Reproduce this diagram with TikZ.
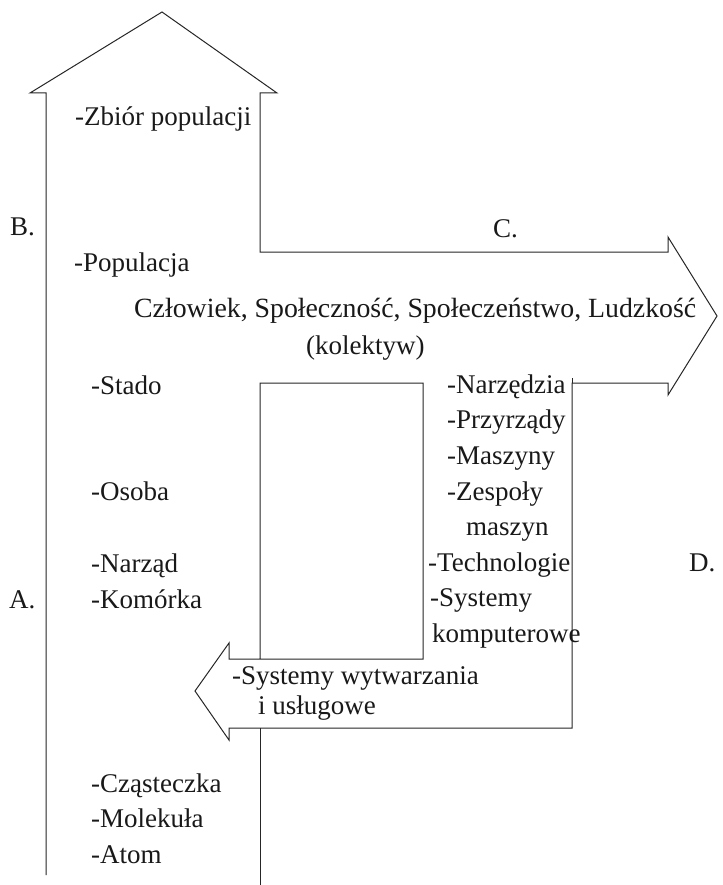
\documentclass[tikz,border=0pt]{standalone}
\usepackage{fontspec}
\setmainfont{Liberation Serif}
\begin{document}
\begin{tikzpicture}[x=1pt,y=-1pt,
  outline/.style={draw=black!85, line width=1pt, line join=miter},
  lbl/.style={anchor=base west, inner sep=0pt, font=\fontsize{27}{32}\selectfont, text=black!90}]
\useasboundingbox (0,0) rectangle (722,885);
\fill[white] (0,0) rectangle (722,885);
% main outline: up arrow, right arrow, down column, left arrow
\draw[outline] (46,875) -- (46,93) -- (30,93) -- (162,12) -- (277,93) -- (260,93)
  -- (260,252) -- (668,252) -- (668,237) -- (717,316) -- (668,395) -- (668,383)
  -- (572,383) -- (572,728) -- (229,728) -- (229,740) -- (195,691) -- (229,643)
  -- (229,659) -- (423,659) -- (423,383) -- (260,383) -- (260,659);
\draw[outline] (260,728) -- (260,885);
\draw[outline] (572,378) -- (572,383);
% labels
\node[lbl] (zbior) at (75,126) {-Zbiór populacji};
\node[lbl] (B) at (10,236) {B.};
\node[lbl] (C) at (493,237) {C.};
\node[lbl] (pop) at (74,271) {-Populacja};
\node[lbl, font=\fontsize{27.8}{32}\selectfont] (czl) at (134,317) {Człowiek, Społeczność, Społeczeństwo, Ludzkość};
\node[lbl] (kol) at (306,354) {(kolektyw)};
\node[lbl] (stado) at (91,394) {-Stado};
\node[lbl] (osoba) at (91,500) {-Osoba};
\node[lbl] (narzad) at (91,572) {-Narząd};
\node[lbl] (kom) at (91,608) {-Komórka};
\node[lbl] (A) at (9,608) {A.};
\node[lbl] (czast) at (91,792) {-Cząsteczka};
\node[lbl] (mol) at (91,827) {-Molekuła};
\node[lbl] (atom) at (91,863) {-Atom};
\node[lbl] (narz) at (447,393) {-Narzędzia};
\node[lbl] (przy) at (447,428) {-Przyrządy};
\node[lbl] (masz) at (447,464) {-Maszyny};
\node[lbl] (zesp) at (447,500) {-Zespoły};
\node[lbl] (maszyn) at (466,535) {maszyn};
\node[lbl] (tech) at (428,571) {-Technologie};
\node[lbl] (sys) at (430,606) {-Systemy};
\node[lbl] (komp) at (432,642) {komputerowe};
\node[lbl] (D) at (689,571) {D.};
\node[lbl] (sysw) at (232,684) {-Systemy wytwarzania};
\node[lbl] (usl) at (258,714) {i usługowe};
\end{tikzpicture}
\end{document}
